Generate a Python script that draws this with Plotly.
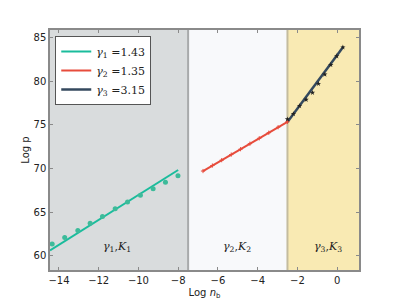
import plotly.graph_objects as go

# ---- data ----
g1_x = [-14.34, -13.71, -13.05, -12.43, -11.81, -11.17, -10.55, -9.90, -9.26, -8.64, -8.01]
g1_y = [61.34, 62.09, 62.89, 63.73, 64.49, 65.37, 66.17, 66.93, 67.69, 68.42, 69.17]
g1_line_x = [-14.45, -8.0]
g1_line_y = [60.6, 69.83]

g2_x = [-6.75, -6.28, -5.81, -5.33, -4.86, -4.39, -3.92, -3.44, -2.97, -2.5]
g2_y = [69.71, 70.34, 70.96, 71.60, 72.22, 72.85, 73.47, 74.11, 74.74, 75.36]
g2_line_x = [-6.75, -2.5]
g2_line_y = [69.71, 75.36]

g3_x = [-2.50, -2.20, -1.89, -1.56, -1.24, -0.94, -0.62, -0.32, -0.02, 0.29]
g3_y = [75.66, 76.26, 77.18, 77.90, 78.70, 79.73, 80.80, 81.90, 82.90, 83.92]
g3_line_x = [-2.5, 0.32]
g3_line_y = [75.35, 84.0]

legend_names = ["<i>γ</i><sub>1</sub> =1.43", "<i>γ</i><sub>2</sub> =1.35", "<i>γ</i><sub>3</sub> =3.15"]
region_bounds = [-14.45, -7.5, -2.5, 1.1]
region_labels = ["<i>γ</i><sub>1</sub>,<i>K</i><sub>1</sub>",
                 "<i>γ</i><sub>2</sub>,<i>K</i><sub>2</sub>",
                 "<i>γ</i><sub>3</sub>,<i>K</i><sub>3</sub>"]
region_label_x = [-11.1, -5.05, -0.45]
region_label_y = [60.95, 60.95, 60.95]
x_ticks = [-14, -12, -10, -8, -6, -4, -2, 0]
y_ticks = [60, 65, 70, 75, 80, 85]

C_GREEN = "#1abc9c"
C_RED = "#e74c3c"
C_DARK = "#34495e"
region_colors = ["#d9dcdd", "#f8f9fb", "#f9eab3"]

fig = go.Figure()

# lines (legend)
fig.add_trace(go.Scatter(x=g1_line_x, y=g1_line_y, mode="lines",
                         line=dict(color=C_GREEN, width=2), name=legend_names[0]))
fig.add_trace(go.Scatter(x=g2_line_x, y=g2_line_y, mode="lines",
                         line=dict(color=C_RED, width=2), name=legend_names[1]))
fig.add_trace(go.Scatter(x=g3_line_x, y=g3_line_y, mode="lines",
                         line=dict(color=C_DARK, width=2.5), name=legend_names[2]))
# points
fig.add_trace(go.Scatter(x=g1_x, y=g1_y, mode="markers", showlegend=False,
                         marker=dict(color="#3dbb9a", size=5)))
fig.add_trace(go.Scatter(x=g2_x, y=g2_y, mode="markers", showlegend=False,
                         marker=dict(color=C_RED, size=3, symbol="cross-thin",
                                     line=dict(color=C_RED, width=1))))
fig.add_trace(go.Scatter(x=g3_x, y=g3_y, mode="markers", showlegend=False,
                         marker=dict(color="#222222", size=4, symbol="star")))

# shaded regions
for i in range(3):
    fig.add_shape(type="rect", xref="x", yref="paper",
                  x0=region_bounds[i], x1=region_bounds[i + 1], y0=0, y1=1,
                  fillcolor=region_colors[i], line_width=0, layer="below")
for b, c in [(region_bounds[1], "#a8aaab"), (region_bounds[2], "#c4bc9e")]:
    fig.add_shape(type="line", xref="x", yref="paper", x0=b, x1=b, y0=0, y1=1,
                  line=dict(color=c, width=2), layer="below")

for t, x, y in zip(region_labels, region_label_x, region_label_y):
    fig.add_annotation(x=x, y=y, text=t, showarrow=False,
                       font=dict(family="DejaVu Serif", size=11, color="#222"))

axis_common = dict(showgrid=False, zeroline=False, showline=True, mirror="ticks",
                   linecolor="#8a8a8a", linewidth=1.5, ticks="inside", ticklen=3,
                   tickcolor="#8a8a8a", automargin=False,
                   tickfont=dict(family="DejaVu Sans", size=10, color="#222"))

# the page body adds an 8px offset, so the figure is sized to fit the window
fig.update_layout(
    width=391, height=293,
    margin=dict(l=42, r=40, t=22, b=31),
    paper_bgcolor="white", plot_bgcolor="white",
    xaxis=dict(range=[-14.45, 1.1], tickvals=x_ticks,
               title=dict(text="Log <i>n</i><sub>b</sub>", standoff=4,
                          font=dict(family="DejaVu Sans", size=10, color="#222")),
               **axis_common),
    yaxis=dict(range=[58.35, 85.9], tickvals=y_ticks,
               title=dict(text="Log p", standoff=2,
                          font=dict(family="DejaVu Sans", size=10, color="#222")),
               **axis_common),
    legend=dict(x=0.017, y=0.975, xanchor="left", yanchor="top",
                bgcolor="white", bordercolor="#555", borderwidth=1,
                font=dict(family="DejaVu Serif", size=11, color="#222"),
                itemwidth=30, tracegroupgap=0),
    showlegend=True,
)

fig.write_html("out.html")
